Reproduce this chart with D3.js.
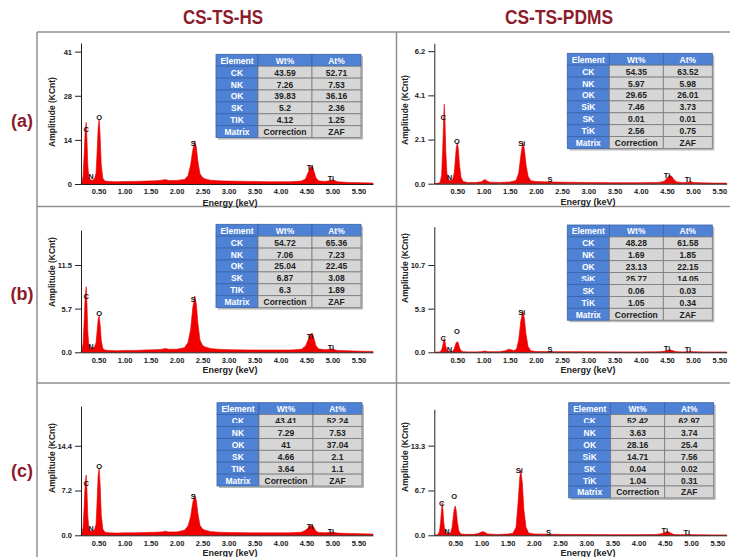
<!DOCTYPE html>
<html>
<head>
<meta charset="utf-8">
<script src="https://cdn.jsdelivr.net/npm/d3@7"></script>
<style>
  body { margin: 0; background: #fff; }
  svg { display: block; font-family: "Liberation Sans", Arial, sans-serif; }
</style>
</head>
<body>
<svg id="chart" width="730" height="557"></svg>
<script>
// column titles and row tags
const titles = ["CS-TS-HS", "CS-TS-PDMS"];
const rowTags = ["(a)", "(b)", "(c)"];
const energyTicks = [0.5, 1, 1.5, 2, 2.5, 3, 3.5, 4, 4.5, 5, 5.5];

// y tick values (labels are rounded by the format)
const ticksHsA = [0, 13.8, 27.6, 41.4];
const ticksHsB = [0, 5.73, 11.46];
const ticksHsC = [0, 7.2, 14.4];
const ticksPdA = [0, 2.07, 4.14, 6.21];
const ticksPdB = [0, 5.34, 10.68];
const ticksPdC = [0, 6.66, 13.32];

// composition tables
const elemHsA = ["CK", "NK", "OK", "SK", "TIK", "Matrix"];
const wtHsA = ["43.59", "7.26", "39.83", "5.2", "4.12", "Correction"];
const atHsA = ["52.71", "7.53", "36.16", "2.36", "1.25", "ZAF"];
const elemHsB = ["CK", "NK", "OK", "SK", "TIK", "Matrix"];
const wtHsB = ["54.72", "7.06", "25.04", "6.87", "6.3", "Correction"];
const atHsB = ["65.36", "7.23", "22.45", "3.08", "1.89", "ZAF"];
const elemHsC = ["CK", "NK", "OK", "SK", "TIK", "Matrix"];
const wtHsC = ["43.41", "7.29", "41", "4.66", "3.64", "Correction"];
const atHsC = ["52.24", "7.53", "37.04", "2.1", "1.1", "ZAF"];
const elemPdA = ["CK", "NK", "OK", "SiK", "SK", "TiK", "Matrix"];
const wtPdA = ["54.35", "5.97", "29.65", "7.46", "0.01", "2.56", "Correction"];
const atPdA = ["63.52", "5.98", "26.01", "3.73", "0.01", "0.75", "ZAF"];
const elemPdB = ["CK", "NK", "OK", "SiK", "SK", "TiK", "Matrix"];
const wtPdB = ["48.28", "1.69", "23.13", "25.77", "0.06", "1.05", "Correction"];
const atPdB = ["61.58", "1.85", "22.15", "14.05", "0.03", "0.34", "ZAF"];
const elemPdC = ["CK", "NK", "OK", "SiK", "SK", "TiK", "Matrix"];
const wtPdC = ["52.42", "3.63", "28.16", "14.71", "0.04", "1.04", "Correction"];
const atPdC = ["62.97", "3.74", "25.4", "7.56", "0.02", "0.31", "ZAF"];

// spectra, [energy keV, amplitude KCnt]
const specHsA = [[0.16,0],[0.18,0.6],[0.2,2.5],[0.22,9],[0.24,16.5],[0.26,19.3],[0.275,14],[0.29,6],[0.31,2.2],[0.34,1.3],[0.38,1.2],[0.42,1.6],[0.45,3.5],[0.47,10],[0.49,17.5],[0.51,20.3],[0.53,14.5],[0.55,6],[0.58,1.8],[0.62,0.9],[0.7,0.8],[0.85,0.7],[1.0,0.8],[1.2,0.8],[1.4,0.9],[1.6,1.0],[1.72,1.2],[1.78,1.4],[1.85,1.1],[2.0,1.1],[2.15,1.4],[2.22,2.6],[2.27,6],[2.31,10.5],[2.35,13.5],[2.38,11.5],[2.41,7],[2.45,3.2],[2.5,2],[2.55,1.6],[2.65,1.2],[2.8,1.0],[3.0,0.9],[3.4,0.8],[3.8,0.7],[4.2,0.7],[4.4,0.9],[4.48,1.6],[4.53,3.5],[4.58,5.5],[4.61,5.7],[4.64,4.2],[4.68,2],[4.73,1],[4.85,0.8],[4.95,1.0],[5.0,1.3],[5.04,1.1],[5.1,0.7],[5.3,0.5],[5.55,0.4],[5.78,0.3]];
const specHsB = [[0.16,0],[0.18,0.3],[0.2,1.2],[0.22,4],[0.24,7.3],[0.26,8.6],[0.275,6.3],[0.29,2.8],[0.31,1],[0.34,0.6],[0.38,0.5],[0.42,0.7],[0.45,1.3],[0.47,2.8],[0.49,4.3],[0.51,4.8],[0.53,3.5],[0.55,1.6],[0.58,0.5],[0.62,0.3],[0.7,0.25],[0.85,0.2],[1.0,0.25],[1.2,0.25],[1.4,0.3],[1.6,0.35],[1.72,0.4],[1.78,0.5],[1.85,0.4],[2.0,0.4],[2.15,0.6],[2.22,1.3],[2.27,3],[2.31,5.8],[2.35,7.4],[2.38,6.3],[2.41,3.8],[2.45,1.6],[2.5,0.9],[2.55,0.7],[2.65,0.5],[2.8,0.4],[3.0,0.35],[3.4,0.3],[3.8,0.3],[4.2,0.3],[4.4,0.4],[4.48,0.8],[4.53,1.6],[4.58,2.4],[4.61,2.5],[4.64,1.9],[4.68,0.9],[4.73,0.45],[4.85,0.35],[4.95,0.4],[5.0,0.45],[5.04,0.35],[5.1,0.25],[5.3,0.2],[5.55,0.15],[5.78,0.1]];
const specHsC = [[0.16,0],[0.18,0.4],[0.2,1.3],[0.22,4.5],[0.24,8.3],[0.26,9.7],[0.275,7.2],[0.29,3.2],[0.31,1.2],[0.34,0.7],[0.38,0.6],[0.42,0.9],[0.45,1.8],[0.47,5.5],[0.49,9.6],[0.51,10.8],[0.53,7.8],[0.55,3.3],[0.58,1],[0.62,0.5],[0.7,0.4],[0.85,0.35],[1.0,0.4],[1.2,0.4],[1.4,0.45],[1.6,0.5],[1.72,0.55],[1.78,0.65],[1.85,0.55],[2.0,0.55],[2.15,0.8],[2.22,1.5],[2.27,3],[2.31,5.2],[2.35,6.5],[2.38,5.6],[2.41,3.5],[2.45,1.6],[2.5,1],[2.55,0.8],[2.65,0.6],[2.8,0.5],[3.0,0.45],[3.4,0.4],[3.8,0.4],[4.2,0.4],[4.4,0.5],[4.48,0.8],[4.53,1.2],[4.58,1.6],[4.61,1.66],[4.64,1.3],[4.68,0.7],[4.73,0.45],[4.85,0.4],[4.95,0.45],[5.0,0.55],[5.04,0.45],[5.1,0.35],[5.3,0.3],[5.55,0.25],[5.78,0.2]];
const specPdA = [[0.06,0],[0.12,0.02],[0.17,0.06],[0.2,0.4],[0.22,1.6],[0.24,3.1],[0.25,3.73],[0.265,2.9],[0.28,1.5],[0.3,0.5],[0.33,0.18],[0.37,0.14],[0.41,0.2],[0.44,0.5],[0.46,1.1],[0.48,1.7],[0.5,1.92],[0.52,1.6],[0.54,0.9],[0.57,0.3],[0.61,0.1],[0.7,0.06],[0.85,0.06],[0.96,0.09],[1.02,0.2],[1.06,0.14],[1.12,0.07],[1.3,0.06],[1.5,0.08],[1.62,0.15],[1.67,0.5],[1.71,1.3],[1.75,1.95],[1.78,1.6],[1.81,0.9],[1.85,0.35],[1.9,0.14],[2.0,0.1],[2.3,0.08],[2.6,0.07],[3.0,0.06],[3.5,0.05],[4.0,0.05],[4.35,0.06],[4.45,0.12],[4.5,0.25],[4.55,0.38],[4.59,0.35],[4.63,0.2],[4.68,0.09],[4.8,0.05],[4.9,0.07],[4.95,0.1],[5.0,0.06],[5.2,0.04],[5.4,0.03],[5.64,0.03]];
const specPdB = [[0.06,0],[0.12,0.02],[0.17,0.05],[0.2,0.3],[0.22,0.8],[0.24,1.45],[0.25,1.71],[0.265,1.3],[0.28,0.7],[0.3,0.25],[0.33,0.1],[0.37,0.08],[0.41,0.12],[0.44,0.4],[0.46,0.85],[0.48,1.2],[0.5,1.3],[0.52,1.1],[0.54,0.6],[0.57,0.2],[0.61,0.07],[0.7,0.05],[0.85,0.05],[0.96,0.08],[1.02,0.16],[1.06,0.1],[1.12,0.06],[1.3,0.08],[1.42,0.2],[1.48,0.37],[1.53,0.3],[1.58,0.2],[1.63,0.4],[1.67,1.5],[1.71,3.8],[1.75,5.05],[1.78,4.1],[1.81,2.2],[1.85,0.7],[1.9,0.2],[2.0,0.1],[2.3,0.08],[2.6,0.07],[3.0,0.06],[3.5,0.05],[4.0,0.05],[4.35,0.06],[4.45,0.12],[4.5,0.22],[4.55,0.3],[4.59,0.26],[4.63,0.15],[4.68,0.08],[4.8,0.05],[4.9,0.07],[4.95,0.1],[5.0,0.06],[5.2,0.04],[5.4,0.03],[5.64,0.03]];
const specPdC = [[0.1,0],[0.14,0.04],[0.17,0.1],[0.2,0.6],[0.22,2],[0.24,4],[0.25,4.85],[0.265,3.8],[0.28,2],[0.3,0.7],[0.33,0.3],[0.37,0.22],[0.41,0.35],[0.44,1.2],[0.46,2.6],[0.48,3.9],[0.5,4.35],[0.52,3.6],[0.54,2],[0.57,0.6],[0.61,0.2],[0.7,0.14],[0.85,0.14],[0.94,0.25],[0.99,0.45],[1.03,0.55],[1.07,0.4],[1.12,0.2],[1.3,0.13],[1.5,0.18],[1.6,0.3],[1.66,1.2],[1.7,5],[1.73,8.5],[1.75,9.7],[1.78,7.8],[1.81,3.8],[1.85,1.2],[1.9,0.35],[2.0,0.2],[2.3,0.16],[2.6,0.13],[3.0,0.12],[3.5,0.1],[4.0,0.1],[4.35,0.12],[4.45,0.25],[4.5,0.42],[4.54,0.53],[4.58,0.48],[4.63,0.25],[4.68,0.12],[4.8,0.09],[4.9,0.1],[4.95,0.14],[5.0,0.09],[5.2,0.07],[5.4,0.06],[5.68,0.05]];

// peak labels [text, energy, amplitude]
const peaksHsA = [["C",0.26,16.9],["N",0.35,2.3],["O",0.51,20.9],["S",2.32,12.8],["Ti",4.57,5.1],["Ti",4.97,1.6]];
const peaksHsB = [["C",0.26,7.3],["N",0.35,0.73],["O",0.51,5.1],["S",2.32,6.9],["Ti",4.57,2.1],["Ti",4.97,0.6]];
const peaksHsC = [["C",0.26,8.36],["N",0.35,1.13],["O",0.51,11.0],["S",2.32,6.2],["Ti",4.57,1.38],["Ti",4.97,0.58]];
const peaksPdA = [["C",0.23,3.09],["N",0.35,0.28],["O",0.49,2.0],["Si",1.73,1.89],["S",2.27,0.22],["Ti",4.5,0.37],["Ti",4.9,0.22]];
const peaksPdB = [["C",0.23,1.71],["N",0.35,0.37],["O",0.49,2.52],["Si",1.73,4.9],["S",2.27,0.37],["Ti",4.5,0.49],["Ti",4.9,0.4]];
const peaksPdC = [["C",0.24,4.75],["N",0.34,0.53],["O",0.48,5.74],["Si",1.72,9.6],["S",2.28,0.45],["Ti",4.5,0.68],["Ti",4.92,0.39]];

const darkRed = "#8c1b2b";
const cellBlue = "#4f82d4";
const cellGray = "#d6d6d6";

const svg = d3.select("#chart");

// panel frame
const frame = svg.append("g").attr("stroke", "#8f8f8f").attr("stroke-width", 1.5);
[[37, 32, 730, 32], [37, 206.5, 730, 206.5], [37, 383, 730, 383],
 [37, 32, 37, 557], [396.5, 32, 396.5, 557]].forEach(l => {
  frame.append("line").attr("x1", l[0]).attr("y1", l[1]).attr("x2", l[2]).attr("y2", l[3]);
});

svg.selectAll("text.title")
  .data(titles)
  .enter().append("text")
  .attr("class", "title")
  .attr("x", (d, i) => [223, 559][i])
  .attr("y", 24)
  .attr("text-anchor", "middle")
  .attr("font-family", "'Liberation Sans Narrow', 'Arial Narrow', sans-serif")
  .attr("font-weight", "bold")
  .attr("font-size", 20)
  .attr("textLength", (d, i) => [80, 108][i])
  .attr("lengthAdjust", "spacingAndGlyphs")
  .attr("fill", darkRed)
  .text(d => d);

svg.selectAll("text.tag")
  .data(rowTags)
  .enter().append("text")
  .attr("class", "tag")
  .attr("x", 22)
  .attr("y", (d, i) => [127, 299.5, 477][i])
  .attr("text-anchor", "middle")
  .attr("font-weight", "bold")
  .attr("font-size", 18)
  .attr("fill", darkRed)
  .text(d => d);

const panels = [
  {spec: specHsA, peaks: peaksHsA, ticks: ticksHsA, fmt: ".0f", yMax: 44.1, xDom: [0.16, 5.78], xr: [81, 373], yr: [184, 43],
   table: [elemHsA, wtHsA, atHsA], tpos: [216, 54.3], cut: -1, ylab: [52, 112], xlab: [230, 206]},
  {spec: specHsB, peaks: peaksHsB, ticks: ticksHsB, fmt: ".1f", yMax: 16.05, xDom: [0.16, 5.78], xr: [81, 373], yr: [352.3, 230],
   table: [elemHsB, wtHsB, atHsB], tpos: [216, 224.3], cut: -1, ylab: [52, 272], xlab: [230, 372.5]},
  {spec: specHsC, peaks: peaksHsC, ticks: ticksHsC, fmt: ".1f", yMax: 20.8, xDom: [0.16, 5.78], xr: [81, 373], yr: [535.3, 406],
   table: [elemHsC, wtHsC, atHsC], tpos: [217, 402.7], cut: 1, ylab: [52, 458], xlab: [230, 555.5]},
  {spec: specPdA, peaks: peaksPdA, ticks: ticksPdA, fmt: ".1f", yMax: 6.58, xDom: [0.06, 5.64], xr: [434.3, 726.7], yr: [183.7, 43.3],
   table: [elemPdA, wtPdA, atPdA], tpos: [567.3, 53.3], cut: -1, ylab: [405, 110], xlab: [588, 205]},
  {spec: specPdB, peaks: peaksPdB, ticks: ticksPdB, fmt: ".1f", yMax: 15.37, xDom: [0.06, 5.64], xr: [434.3, 726.7], yr: [352.3, 226.7],
   table: [elemPdB, wtPdB, atPdB], tpos: [567.3, 225], cut: 4, ylab: [405, 268], xlab: [588, 372.5]},
  {spec: specPdC, peaks: peaksPdC, ticks: ticksPdC, fmt: ".1f", yMax: 18.72, xDom: [0.1, 5.68], xr: [434.3, 726.7], yr: [535.3, 409.3],
   table: [elemPdC, wtPdC, atPdC], tpos: [568.7, 402.7], cut: 1, ylab: [405, 457], xlab: [588, 556]}
];

panels.forEach((p, pi) => {
  const g = svg.append("g");
  const x = d3.scaleLinear().domain(p.xDom).range(p.xr);
  const y = d3.scaleLinear().domain([0, p.yMax]).range(p.yr);

  const area = d3.area()
    .x(d => x(d[0]))
    .y0(y(0))
    .y1(d => y(d[1]));
  g.append("path")
    .datum(p.spec)
    .attr("d", area)
    .attr("fill", "#f20000")
    .attr("stroke", "#e60000")
    .attr("stroke-width", 0.6)
    .attr("stroke-linejoin", "round");

  // axes
  const yAxis = g.append("g")
    .attr("transform", `translate(${p.xr[0]},0)`)
    .call(d3.axisLeft(y).tickValues(p.ticks).tickFormat(d3.format(p.fmt))
      .tickSize(6).tickSizeOuter(0).tickPadding(3));
  const xAxis = g.append("g")
    .attr("transform", `translate(0,${p.yr[0]})`)
    .call(d3.axisBottom(x).tickValues(energyTicks).tickFormat(d3.format(".2f"))
      .tickSize(0).tickSizeOuter(0).tickPadding(5));
  [yAxis, xAxis].forEach(a => {
    a.selectAll("path, line").attr("stroke", "#222").attr("stroke-width", 1);
    a.selectAll("text")
      .attr("font-family", "'Liberation Sans', Arial, sans-serif")
      .attr("font-weight", "bold")
      .attr("font-size", 7.5)
      .attr("fill", "#222");
  });

  g.append("text")
    .attr("transform", `translate(${p.ylab[0]},${p.ylab[1]}) rotate(-90)`)
    .attr("text-anchor", "middle")
    .attr("dominant-baseline", "central")
    .attr("font-weight", "bold")
    .attr("font-size", 8.5)
    .attr("fill", "#222")
    .text("Amplitude (KCnt)");
  g.append("text")
    .attr("x", p.xlab[0])
    .attr("y", p.xlab[1])
    .attr("text-anchor", "middle")
    .attr("font-weight", "bold")
    .attr("font-size", 9)
    .attr("fill", "#222")
    .text("Energy (keV)");

  g.selectAll("text.peak")
    .data(p.peaks)
    .enter().append("text")
    .attr("class", "peak")
    .attr("x", d => x(d[1]))
    .attr("y", d => y(d[2]))
    .attr("text-anchor", "middle")
    .attr("dominant-baseline", "central")
    .attr("font-weight", "bold")
    .attr("font-size", 7.5)
    .attr("fill", "#111")
    .text(d => d[0]);

  drawTable(g, p.table, p.tpos[0], p.tpos[1], p.cut, pi);
});

function drawTable(g, cols, tx, ty, cut, id) {
  const widths = [42, 54, 49];
  const rh = 11.9;
  const rows = [["Element", "Wt%", "At%"]].concat(cols[0].map((e, i) => [e, cols[1][i], cols[2][i]]));
  const tw = d3.sum(widths);
  const xs = [0, widths[0], widths[0] + widths[1]];
  const t = g.append("g").attr("transform", `translate(${tx},${ty})`);
  t.append("rect")
    .attr("x", 2).attr("y", 2)
    .attr("width", tw).attr("height", rows.length * rh)
    .attr("fill", "#b9b9b9");
  rows.forEach((row, r) => {
    row.forEach((val, c) => {
      const head = r === 0 || c === 0;
      t.append("rect")
        .attr("x", xs[c]).attr("y", r * rh)
        .attr("width", widths[c]).attr("height", rh)
        .attr("fill", head ? cellBlue : cellGray)
        .attr("stroke", head ? "#3a64a8" : "#7a7a7a")
        .attr("stroke-width", 0.8);
      const txt = t.append("text")
        .attr("x", xs[c] + widths[c] / 2)
        .attr("y", r * rh + rh / 2 + 0.5)
        .attr("text-anchor", "middle")
        .attr("dominant-baseline", "central")
        .attr("font-weight", "bold")
        .attr("font-size", 8.5)
        .attr("fill", head ? "#fff" : "#222")
        .text(val);
      if (r === cut) {
        // that row is cut short in the source picture
        const cid = `cut${id}_${c}`;
        t.append("clipPath").attr("id", cid)
          .append("rect")
          .attr("x", xs[c]).attr("y", r * rh)
          .attr("width", widths[c]).attr("height", rh - 3.5);
        txt.attr("clip-path", `url(#${cid})`);
      }
    });
  });
}
</script>
</body>
</html>
